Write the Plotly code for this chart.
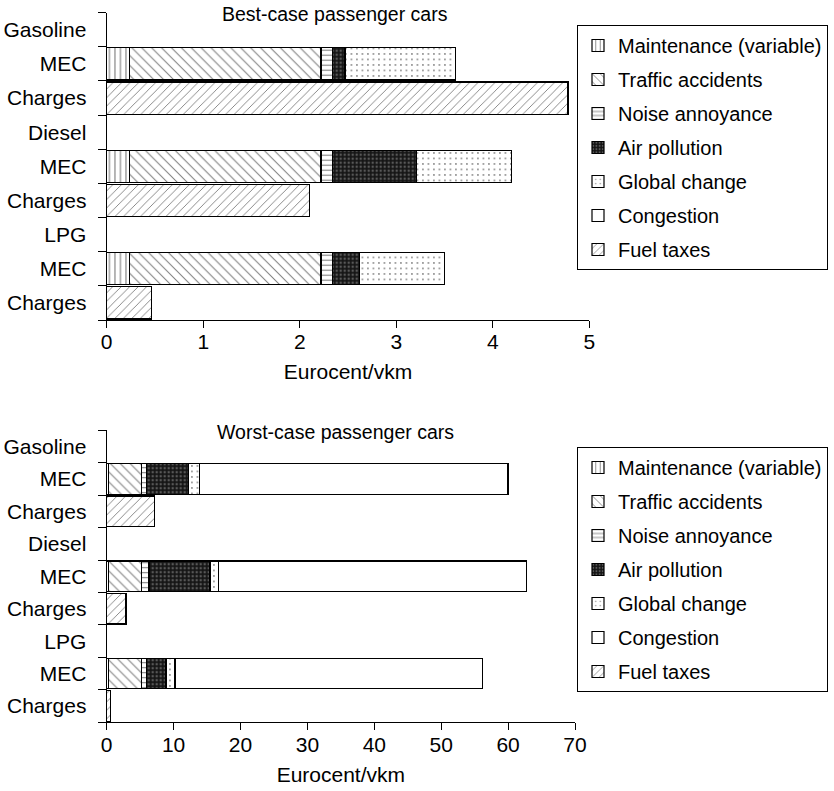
import plotly.graph_objects as go

W, H = 834, 791

rows = ["Gasoline", "MEC", "Charges", "Diesel", "MEC", "Charges", "LPG", "MEC", "Charges"]
components = ["Maintenance (variable)", "Traffic accidents", "Noise annoyance",
              "Air pollution", "Global change", "Congestion", "Fuel taxes"]

N = None
# Best-case passenger cars (Eurocent/vkm), one value per row
best_maintenance = [N, 0.24, N, N, 0.24, N, N, 0.24, N]
best_accidents   = [N, 1.98, N, N, 1.98, N, N, 1.98, N]
best_noise       = [N, 0.12, N, N, 0.12, N, N, 0.12, N]
best_air         = [N, 0.13, N, N, 0.87, N, N, 0.28, N]
best_global      = [N, 1.14, N, N, 0.98, N, N, 0.88, N]
best_congestion  = [N, N, N, N, N, N, N, N, N]
best_fuel_taxes  = [N, N, 4.78, N, N, 2.10, N, N, 0.46]

# Worst-case passenger cars (Eurocent/vkm)
worst_maintenance = [N, 0.3, N, N, 0.3, N, N, 0.3, N]
worst_accidents   = [N, 4.93, N, N, 4.93, N, N, 4.93, N]
worst_noise       = [N, 0.75, N, N, 1.09, N, N, 0.75, N]
worst_air         = [N, 6.22, N, N, 9.12, N, N, 2.88, N]
worst_global      = [N, 1.64, N, N, 1.24, N, N, 1.35, N]
worst_congestion  = [N, 46.16, N, N, 46.12, N, N, 45.99, N]
worst_fuel_taxes  = [N, N, 7.2, N, N, 2.88, N, N, 0.6]

best_ticks = [0, 1, 2, 3, 4, 5]
worst_ticks = [0, 10, 20, 30, 40, 50, 60, 70]

best_series = [best_maintenance, best_accidents, best_noise, best_air,
               best_global, best_congestion, best_fuel_taxes]
worst_series = [worst_maintenance, worst_accidents, worst_noise, worst_air,
                worst_global, worst_congestion, worst_fuel_taxes]

patterns = [
    dict(shape="|", size=5.5, solidity=0.2, fgcolor="black", bgcolor="white"),
    dict(shape="\\", size=7, solidity=0.15, fgcolor="black", bgcolor="white"),
    dict(shape="-", size=5, solidity=0.22, fgcolor="black", bgcolor="white"),
    dict(shape=".", size=4, solidity=0.3, fgcolor="#9a9a9a", bgcolor="#151515"),
    dict(shape=".", size=5.5, solidity=0.08, fgcolor="black", bgcolor="white"),
    dict(shape="", fgcolor="black", bgcolor="white"),
    dict(shape="/", size=6, solidity=0.15, fgcolor="black", bgcolor="white"),
]

FONT = "Liberation Sans, Arial, Helvetica, sans-serif"
ypos = list(range(len(rows)))

fig = go.Figure()

def add_group(series, xa, ya, leg, grp):
    for i, (name, vals) in enumerate(zip(components, series)):
        fig.add_trace(go.Bar(
            x=vals, y=ypos, orientation="h", name=name,
            xaxis=xa, yaxis=ya, legend=leg, legendgroup=f"{grp}{i}",
            width=0.94,
            marker=dict(color="white", pattern=patterns[i],
                        line=dict(color="black", width=1.2)),
            hoverinfo="x+name",
        ))

add_group(best_series, "x", "y", "legend", "b")
add_group(worst_series, "x2", "y2", "legend2", "w")

def px_x(p):
    return p / W

def px_y(p):
    return 1 - p / H

axis_common = dict(showline=True, linecolor="black", linewidth=1.2, ticks="outside",
                   ticklen=7, tickcolor="black", tickwidth=1.2, showgrid=False,
                   zeroline=False, tickfont=dict(size=21, color="black"),
                   ticklabelstandoff=-4,
                   title_font=dict(size=21, color="black"))

yaxis_common = dict(showline=True, linecolor="black", linewidth=1.2, ticks="",
                    tickmode="array", tickvals=ypos, ticktext=rows,
                    range=[len(rows) - 0.5, -0.5], showgrid=False, zeroline=False,
                    tickfont=dict(size=21, color="black"), ticklabelstandoff=15,
                    minor=dict(tickmode="array",
                               tickvals=[k - 0.5 for k in range(len(rows) + 1)],
                               ticks="outside", ticklen=8, tickcolor="black",
                               tickwidth=1.2, showgrid=False))

legend_common = dict(bgcolor="white", bordercolor="black", borderwidth=1,
                     font=dict(size=20, color="black", family=FONT),
                     traceorder="grouped", tracegroupgap=5,
                     xanchor="left", yanchor="top", x=px_x(577))

fig.update_layout(
    width=W, height=H,
    margin=dict(l=0, r=0, t=0, b=0, autoexpand=False),
    paper_bgcolor="white", plot_bgcolor="white",
    font=dict(family=FONT, color="black"),
    barmode="stack", bargap=0.06,
    xaxis=dict(domain=[px_x(106.7), px_x(589.3)], range=[0, 5], tickmode="array",
               tickvals=best_ticks, anchor="y",
               title=dict(text="Eurocent/vkm", standoff=12), **axis_common),
    yaxis=dict(domain=[px_y(320), px_y(12.7)], anchor="x", **yaxis_common),
    xaxis2=dict(domain=[px_x(106.7), px_x(575)], range=[0, 70], tickmode="array",
                tickvals=worst_ticks, anchor="y2",
                title=dict(text="Eurocent/vkm", standoff=12), **axis_common),
    yaxis2=dict(domain=[px_y(722.3), px_y(430.2)], anchor="x2", **yaxis_common),
    legend=dict(y=px_y(25), **legend_common),
    legend2=dict(y=px_y(447), **legend_common),
    showlegend=True,
    annotations=[
        dict(text="Best-case passenger cars", x=px_x(335), y=px_y(14),
             xref="paper", yref="paper", xanchor="center", yanchor="middle",
             showarrow=False, font=dict(size=19.5, color="black")),
        dict(text="Worst-case passenger cars", x=px_x(335), y=px_y(432),
             xref="paper", yref="paper", xanchor="center", yanchor="middle",
             showarrow=False, font=dict(size=19.5, color="black")),
    ],
)

fig.write_html("out.html", config={"displayModeBar": False},
               post_script="document.body.style.margin='0px';document.body.style.overflow='hidden';")
